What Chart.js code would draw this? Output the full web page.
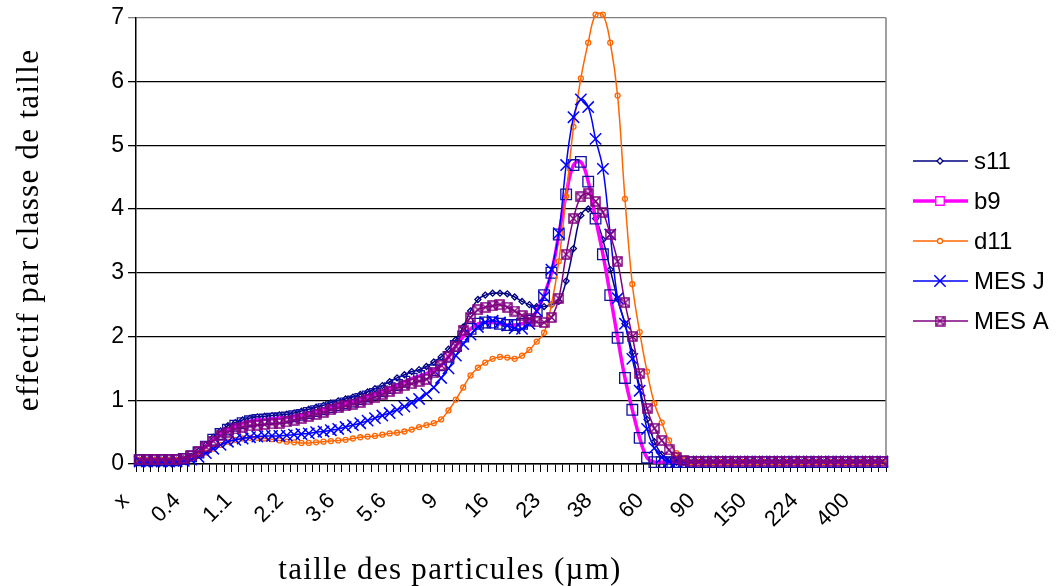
<!DOCTYPE html>
<html>
<head>
<meta charset="utf-8">
<script src="https://cdn.jsdelivr.net/npm/chart.js@4/dist/chart.umd.min.js"></script>
<style>
  html, body { margin: 0; background: #fff; }
  #wrap { width: 1058px; height: 586px; position: relative; }
</style>
</head>
<body>
<div id="wrap"><canvas id="chart"></canvas></div>
<script>
const tickLabels = ['x', '0.4', '1.1', '2.2', '3.6', '5.6', '9', '16', '23', '38', '60', '90', '150', '224', '400'];
const classCount = 102;
const labelEvery = 7;

const s11 = [
  0.06, 0.06, 0.06, 0.06, 0.06, 0.06, 0.08, 0.12, 0.2, 0.3,
  0.42, 0.52, 0.6, 0.65, 0.69, 0.72, 0.74, 0.75, 0.76, 0.77,
  0.78, 0.8, 0.83, 0.86, 0.89, 0.92, 0.96, 0.99, 1.02, 1.05,
  1.09, 1.13, 1.18, 1.23, 1.29, 1.35, 1.4, 1.45, 1.48, 1.53,
  1.6, 1.68, 1.8, 1.95, 2.15, 2.4, 2.58, 2.65, 2.68, 2.68,
  2.67, 2.62, 2.55, 2.5, 2.47, 2.47, 2.5, 2.55, 2.87, 3.38,
  3.9, 4.0, 3.85, 3.52, 3.05, 2.59, 2.2, 1.75, 1.2, 0.7,
  0.35, 0.15, 0.06, 0.03, 0.03, 0.03, 0.03, 0.03, 0.03, 0.03,
  0.03, 0.03, 0.03, 0.03, 0.03, 0.03, 0.03, 0.03, 0.03, 0.03,
  0.03, 0.03, 0.03, 0.03, 0.03, 0.03, 0.03, 0.03, 0.03, 0.03,
  0.03, 0.03
];
const b9 = [
  0.06, 0.06, 0.06, 0.06, 0.06, 0.06, 0.08, 0.12, 0.18, 0.27,
  0.38, 0.47, 0.54, 0.6, 0.64, 0.67, 0.69, 0.7, 0.71, 0.72,
  0.73, 0.75, 0.77, 0.8, 0.83, 0.86, 0.89, 0.92, 0.95, 0.98,
  1.02, 1.06, 1.1, 1.14, 1.19, 1.24, 1.29, 1.34, 1.38, 1.42,
  1.47, 1.55, 1.68, 1.85, 2.0, 2.12, 2.2, 2.22, 2.22, 2.2,
  2.18, 2.18, 2.2, 2.25, 2.4, 2.65, 3.0, 3.6, 4.23, 4.69,
  4.74, 4.43, 3.85, 3.29, 2.65, 1.98, 1.35, 0.85, 0.41, 0.1,
  0.03, 0.03, 0.03, 0.03, 0.03, 0.03, 0.03, 0.03, 0.03, 0.03,
  0.03, 0.03, 0.03, 0.03, 0.03, 0.03, 0.03, 0.03, 0.03, 0.03,
  0.03, 0.03, 0.03, 0.03, 0.03, 0.03, 0.03, 0.03, 0.03, 0.03,
  0.03, 0.03
];
const d11 = [
  0.06, 0.06, 0.06, 0.06, 0.06, 0.06, 0.07, 0.09, 0.13, 0.18,
  0.24, 0.3, 0.35, 0.38, 0.4, 0.41, 0.41, 0.4, 0.39, 0.37,
  0.35, 0.34, 0.33, 0.33, 0.34, 0.35, 0.36, 0.37, 0.38, 0.4,
  0.42, 0.43, 0.44, 0.46, 0.48, 0.49, 0.51, 0.54, 0.58, 0.61,
  0.64, 0.7, 0.84, 1.01, 1.2, 1.39, 1.51, 1.59, 1.65, 1.68,
  1.67, 1.65, 1.7, 1.79, 1.92, 2.06, 2.5, 3.18, 4.2, 5.29,
  6.05, 6.61, 7.05, 7.05, 6.61, 5.78, 4.16, 2.82, 2.07, 1.45,
  0.95, 0.65, 0.37, 0.17, 0.07, 0.03, 0.03, 0.03, 0.03, 0.03,
  0.03, 0.03, 0.03, 0.03, 0.03, 0.03, 0.03, 0.03, 0.03, 0.03,
  0.03, 0.03, 0.03, 0.03, 0.03, 0.03, 0.03, 0.03, 0.03, 0.03,
  0.03, 0.03
];
const mesJ = [
  0.04, 0.04, 0.04, 0.04, 0.04, 0.04, 0.05, 0.07, 0.11, 0.17,
  0.24, 0.3, 0.35, 0.38, 0.4, 0.42, 0.43, 0.44, 0.44, 0.44,
  0.45, 0.46, 0.47, 0.48, 0.5, 0.51, 0.53, 0.55, 0.58, 0.61,
  0.64, 0.68, 0.72, 0.76, 0.8, 0.85, 0.9, 0.96, 1.02, 1.1,
  1.2, 1.35, 1.5, 1.7, 1.88, 2.03, 2.15, 2.22, 2.25, 2.22,
  2.17, 2.13, 2.12, 2.2, 2.4, 2.62, 3.05, 3.62, 4.69, 5.44,
  5.72, 5.6, 5.1, 4.63, 3.6, 2.6, 2.2, 1.65, 1.15, 0.55,
  0.25, 0.1, 0.04, 0.04, 0.04, 0.04, 0.04, 0.04, 0.04, 0.04,
  0.04, 0.04, 0.04, 0.04, 0.04, 0.04, 0.04, 0.04, 0.04, 0.04,
  0.04, 0.04, 0.04, 0.04, 0.04, 0.04, 0.04, 0.04, 0.04, 0.04,
  0.04, 0.04
];
const mesA = [
  0.07, 0.07, 0.07, 0.07, 0.07, 0.07, 0.09, 0.13, 0.19, 0.27,
  0.36, 0.44, 0.5, 0.55, 0.58, 0.6, 0.61, 0.62, 0.63, 0.64,
  0.66, 0.69, 0.72, 0.75, 0.78, 0.81, 0.85, 0.88, 0.91, 0.94,
  0.97, 1.01, 1.05, 1.09, 1.14, 1.19, 1.23, 1.26, 1.3, 1.33,
  1.43, 1.55, 1.68, 1.85, 2.1, 2.3, 2.42, 2.46, 2.48, 2.5,
  2.46, 2.4, 2.33, 2.28, 2.23, 2.22, 2.3, 2.6, 3.29, 3.85,
  4.19, 4.24, 4.12, 3.95, 3.6, 3.18, 2.53, 2.0, 1.42, 0.87,
  0.56, 0.37, 0.22, 0.1, 0.05, 0.04, 0.04, 0.04, 0.04, 0.04,
  0.04, 0.04, 0.04, 0.04, 0.04, 0.04, 0.04, 0.04, 0.04, 0.04,
  0.04, 0.04, 0.04, 0.04, 0.04, 0.04, 0.04, 0.04, 0.04, 0.04,
  0.04, 0.04
];

// une classe sur 7 porte une etiquette
const categories = [];
for (let i = 0; i < classCount; i++) {
  categories.push(i % labelEvery === 0 && tickLabels[i / labelEvery] ? tickLabels[i / labelEvery] : '');
}

// marqueur carre barre (MES A)
function boxedX(color, size) {
  const c = document.createElement('canvas');
  c.width = size; c.height = size;
  const g = c.getContext('2d');
  g.strokeStyle = color;
  g.lineWidth = 1.5;
  g.strokeRect(1, 1, size - 2, size - 2);
  g.beginPath();
  g.moveTo(1.5, 1.5); g.lineTo(size - 1.5, size - 1.5);
  g.moveTo(size - 1.5, 1.5); g.lineTo(1.5, size - 1.5);
  g.stroke();
  return c;
}

const serie = (label, data, color, extra) => Object.assign({
  label: label,
  data: data,
  borderColor: color,
  backgroundColor: color,
  borderWidth: 1.5,
  pointBorderWidth: 1.3,
  pointBackgroundColor: 'rgba(255,255,255,0)',
  pointBorderColor: color,
  legendColor: color,
  tension: 0.4,
  clip: false
}, extra);

const datasets = [
  serie('s11', s11, '#000080', { pointStyle: 'rectRot', pointRadius: 3, order: 5 }),
  serie('b9', b9, '#FF00FF', { borderWidth: 3.5, pointStyle: 'rect', pointRadius: 7.5, pointBorderColor: '#1010A0', order: 4 }),
  serie('d11', d11, '#FF6600', { pointStyle: 'circle', pointRadius: 2.5, order: 3 }),
  serie('MES J', mesJ, '#0000FF', { pointStyle: 'crossRot', pointRadius: 8, pointBorderWidth: 1.5, order: 2 }),
  serie('MES A', mesA, '#800080', { pointStyle: boxedX('#800080', 11), pointRadius: 5.5, order: 1 })
];

// legende facon Excel : trait + marqueur
const excelLegend = {
  id: 'excelLegend',
  afterDraw(chart) {
    const ctx = chart.ctx;
    const x0 = chart.chartArea.right + 27;
    chart.data.datasets.forEach((ds, k) => {
      const y = 161 + k * 40;
      ctx.save();
      ctx.strokeStyle = ds.borderColor;
      ctx.lineWidth = ds.borderWidth;
      ctx.beginPath();
      ctx.moveTo(x0, y);
      ctx.lineTo(x0 + 55, y);
      ctx.stroke();
      ctx.strokeStyle = ds.legendColor;
      ctx.fillStyle = '#fff';
      ctx.lineWidth = ds.pointBorderWidth;
      Chart.helpers.drawPoint(ctx, {
        pointStyle: ds.pointStyle,
        radius: ds.pointStyle === 'rect' ? 6 : ds.pointRadius,
        borderWidth: ds.pointBorderWidth,
        rotation: 0
      }, x0 + 27, y);
      ctx.fillStyle = '#000';
      ctx.font = '24px "Liberation Sans", Arial, sans-serif';
      ctx.textBaseline = 'middle';
      ctx.textAlign = 'left';
      ctx.fillText(ds.label, x0 + 61, y + 1);
      ctx.restore();
    });
  }
};

// titres d'axes et bord droit gris
const frame = {
  id: 'frame',
  beforeDatasetsDraw(chart) {
    const { ctx, chartArea } = chart;
    ctx.save();
    ctx.strokeStyle = '#808080';
    ctx.lineWidth = 1.5;
    ctx.beginPath();
    ctx.moveTo(chartArea.right, chartArea.top);
    ctx.lineTo(chartArea.right, chartArea.bottom);
    ctx.stroke();
    ctx.restore();
  },
  afterDraw(chart) {
    const ctx = chart.ctx;
    ctx.save();
    ctx.fillStyle = '#000';
    ctx.font = '31px "Liberation Serif", "Times New Roman", serif';
    ctx.letterSpacing = '1.3px';
    ctx.textAlign = 'center';
    ctx.textBaseline = 'middle';
    ctx.fillText('taille des particules (\u00b5m)', 450, 571);
    ctx.translate(30, 230);
    ctx.rotate(-Math.PI / 2);
    ctx.fillText('effectif par classe de taille', 0, 0);
    ctx.restore();
  }
};

new Chart(document.getElementById('chart'), {
  type: 'line',
  data: { labels: categories, datasets: datasets },
  plugins: [frame, excelLegend],
  options: {
    responsive: true,
    maintainAspectRatio: false,
    animation: false,
    layout: { padding: { top: 15, right: 172, left: 0, bottom: 0 } },
    plugins: { legend: { display: false }, tooltip: { enabled: false } },
    scales: {
      x: {
        type: 'category',
        offset: true,
        afterFit(scale) { scale.height = 122; },
        grid: { display: true, offset: true, drawOnChartArea: false, drawTicks: true, tickLength: 8, color: '#000', lineWidth: 1 },
        border: { display: true, color: '#000', width: 1.5 },
        ticks: {
          autoSkip: false,
          maxRotation: 45,
          minRotation: 45,
          padding: 16,
          labelOffset: -14,
          color: '#000',
          font: { family: '"Liberation Sans", Arial, sans-serif', size: 22 }
        }
      },
      y: {
        min: 0,
        max: 7,
        afterFit(scale) { scale.width = 136; },
        grid: {
          color: (c) => (c.tick && c.tick.value === 7 ? '#808080' : '#000'),
          lineWidth: 1.3,
          drawTicks: true,
          tickLength: 8
        },
        border: { display: true, color: '#000', width: 1.5 },
        ticks: {
          stepSize: 1,
          padding: 4,
          color: '#000',
          font: { family: '"Liberation Sans", Arial, sans-serif', size: 23 }
        }
      }
    }
  }
});
</script>
</body>
</html>
